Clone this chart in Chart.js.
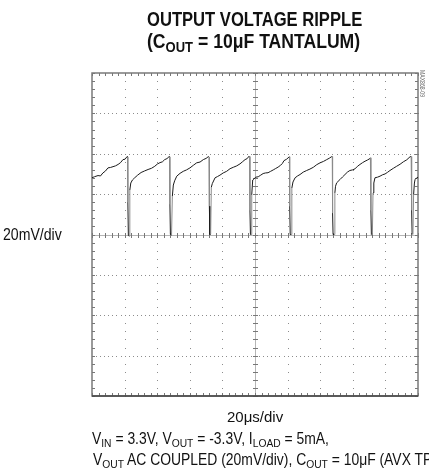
<!DOCTYPE html>
<html>
<head>
<meta charset="utf-8">
<script src="https://cdn.jsdelivr.net/npm/chart.js@4/dist/chart.umd.min.js"></script>
<style>
  html, body { margin: 0; padding: 0; background: #fff; width: 429px; height: 474px; overflow: hidden; }
  #wrap { position: relative; width: 429px; height: 474px; overflow: hidden; }
  canvas { position: absolute; left: 0; top: 0; }
  .t { position: absolute; white-space: nowrap; line-height: 1; font-family: "Liberation Sans", Arial, sans-serif; color: #111; transform-origin: 0 0; }
  .b { font-weight: bold; }
  .s { font-size: 74%; position: relative; top: 0.24em; }
</style>
</head>
<body>
<div id="wrap">
  <canvas id="scope" width="429" height="474"></canvas>
  <div class="t b" id="title1" style="top:9px;font-size:20px" data-w="215" data-cx="254">OUTPUT VOLTAGE RIPPLE</div>
  <div class="t b" id="title2" style="top:31px;font-size:20px" data-w="213" data-cx="253">(C<span class="s">OUT</span> = 10μF TANTALUM)</div>
  <div class="t" id="ylab" style="top:227px;font-size:16px" data-w="59" data-x="3">20mV/div</div>
  <div class="t" id="xlab" style="top:409px;font-size:15px" data-w="56" data-cx="255">20μs/div</div>
  <div class="t" id="note1" style="top:431px;font-size:16px;left:92px">V<span class="s">IN</span> = 3.3V, V<span class="s">OUT</span> = -3.3V, I<span class="s">LOAD</span> = 5mA,</div>
  <div class="t" id="note2" style="top:452px;font-size:16px;left:93px"><span id="vis">V<span class="s">OUT</span> AC COUPLED (20mV/div), C<span class="s">OUT</span> = 10μF (AVX T</span>PS)</div>
  <div class="t" id="tag" style="top:70px;left:426px;font-size:7px;color:#666" data-w="27">MAX868-09</div>
</div>
<script>
// scope trace: time in µs (20 µs/div), ripple in mV (20 mV/div)
const timeMin = 0, timeMax = 200, timeDiv = 20;
const mvMin = -80, mvMax = 80, mvDiv = 20;

const traceTime = [
  0, 1.5, 3.7, 5.2, 6.7, 8.2, 9.8, 11.3, 12.9, 14.4, 16.0, 17.5, 19.0, 20.3, 21.5,
  21.8, 22.0, 22.3, 22.8, 23.2, 23.8, 24.8, 26.2, 28.0, 30.1, 32.3, 34.4, 36.5, 38.5, 40.1, 41.7, 43.2, 44.6, 46.0, 47.3,
  47.6, 47.8, 48.1, 48.8, 49.3, 49.9, 50.7, 52.0, 54.0, 56.0, 58.0, 60.1, 62.2, 64.2, 66.3, 68.3, 70.0, 71.4,
  71.8, 72.0, 72.3, 72.8, 73.2, 73.8, 75.5, 77.0, 78.5, 80.5, 82.6, 84.7, 86.7, 88.8, 90.8, 92.3, 93.9, 95.2, 96.3,
  96.7, 96.9, 97.2, 97.6, 98.0, 98.6, 100.5, 102.0, 103.5, 105.0, 106.5, 108.0, 109.6, 111.2, 112.7, 114.2, 115.7, 116.8, 117.8, 119.4, 120.9,
  121.1, 121.3, 121.6, 122.2, 122.6, 123.3, 124.6, 126.1, 127.6, 129.6, 131.7, 133.7, 135.8, 137.9, 139.9, 142.0, 144.0, 145.6, 147.1,
  147.4, 147.6, 147.9, 148.5, 149.0, 149.4, 150.1, 152.1, 153.7, 155.2, 156.7, 158.2, 159.8, 161.3, 162.9, 164.4, 166.0, 167.5, 169.0, 170.5, 170.8,
  171.1, 171.4, 172.0, 172.4, 172.9, 173.6, 175.2, 176.7, 178.3, 179.8, 181.3, 182.8, 184.9, 186.9, 189.0, 191.0, 193.1, 195.1, 195.8,
  196.1, 196.4, 196.9, 197.3, 197.8, 198.2, 199.0, 200
];
const traceMv = [
  28.1, 28.6, 29.2, 29.0, 30.5, 31.4, 33.0, 33.2, 33.6, 34.0, 34.7, 35.6, 37.1, 37.3, 38.6,
  38.4, 16, -0.5, -0.8, 22.0, 25.5, 27.0, 28.1, 29.4, 30.7, 31.5, 32.2, 32.8, 33.8, 34.9, 35.6, 36.0, 37.1, 37.6, 38.6,
  38.4, 15, 0, -0.3, 19, 24.5, 26.6, 28.9, 30.3, 31.3, 32.0, 33.0, 34.3, 35.5, 35.9, 37.1, 37.7, 38.6,
  38.4, 14, 0, 0.2, 23.4, 25.2, 28.1, 28.7, 29.4, 30.5, 31.3, 32.6, 33.3, 34.0, 35.0, 36.0, 37.1, 37.6, 38.8,
  38.6, 12, 0, 0, 19.8, 27.0, 28.4, 28.6, 29.4, 30.2, 30.5, 30.6, 31.3, 32.0, 32.7, 33.4, 34.3, 35.2, 36.6, 37.3, 38.4,
  38.5, 14, 0, 0, 23.0, 26.0, 28.1, 29.0, 29.7, 30.9, 31.7, 32.4, 33.3, 34.6, 35.5, 36.2, 37.1, 37.8, 38.6,
  38.6, 10.6, 0, 0, 20.6, 23.9, 25.6, 27.2, 28.5, 29.7, 30.9, 31.7, 32.0, 32.5, 33.8, 34.7, 35.6, 36.3, 36.9, 37.6, 38.0,
  12, 0, -0.5, 20.6, 25.5, 28.1, 28.4, 28.9, 29.6, 30.0, 30.8, 31.7, 32.8, 33.8, 34.8, 36.0, 37.0, 38.5, 38.6,
  12, 0, 0, 19.8, 25.5, 27.2, 27.9, 28.4
];

// squeeze the Helvetica-Narrow style labels to the widths they have on the plot
document.querySelectorAll('.t[data-w]').forEach(el => {
  const k = +el.dataset.w / el.offsetWidth;
  if (el.id === 'tag') {
    el.style.transform = 'rotate(90deg) scaleX(' + k + ')';
    return;
  }
  el.style.transform = 'scaleX(' + k + ')';
  if (el.dataset.cx) el.style.left = (+el.dataset.cx - +el.dataset.w / 2) + 'px';
  else el.style.left = el.dataset.x + 'px';
});
// the second note line runs off the right edge at "(AVX T"
const noteScale = 330 / document.getElementById('vis').offsetWidth;
['note1', 'note2'].forEach(id => {
  document.getElementById(id).style.transform = 'scaleX(' + noteScale + ')';
});

const scopeGrid = {
  id: 'scopeGrid',
  beforeDatasetsDraw(chart) {
    const { ctx, chartArea: a } = chart;
    const xs = chart.scales.x, ys = chart.scales.y;
    const px = v => Math.round(xs.getPixelForValue(v));
    const py = v => Math.round(ys.getPixelForValue(v));
    ctx.save();

    // dotted graticule
    ctx.fillStyle = '#8c8c8c';
    for (let t = timeMin + timeDiv; t < timeMax; t += timeDiv) {
      if (t === 100) continue;
      for (let m = mvMin; m <= mvMax; m += mvDiv / 5) ctx.fillRect(px(t), py(m), 1, 1);
    }
    for (let m = mvMin + mvDiv; m < mvMax; m += mvDiv) {
      if (m === 0) continue;
      for (let t = timeMin; t <= timeMax; t += timeDiv / 8) ctx.fillRect(px(t), py(m), 1, 1);
    }

    // centre axes with minor ticks
    ctx.strokeStyle = '#b5b5b5';
    ctx.lineWidth = 1;
    ctx.beginPath();
    ctx.moveTo(a.left, py(0) + 0.5); ctx.lineTo(a.right, py(0) + 0.5);
    ctx.moveTo(px(100) + 0.5, a.top); ctx.lineTo(px(100) + 0.5, a.bottom);
    ctx.stroke();
    ctx.strokeStyle = '#777';
    ctx.beginPath();
    for (let t = timeMin; t <= timeMax; t += timeDiv / 5) {
      ctx.moveTo(px(t) + 0.5, py(0) - 2); ctx.lineTo(px(t) + 0.5, py(0) + 3);
      ctx.moveTo(px(t) + 0.5, a.top); ctx.lineTo(px(t) + 0.5, a.top + 3);
      ctx.moveTo(px(t) + 0.5, a.bottom); ctx.lineTo(px(t) + 0.5, a.bottom - 3);
    }
    for (let m = mvMin; m <= mvMax; m += mvDiv / 5) {
      ctx.moveTo(px(100) - 2, py(m) + 0.5); ctx.lineTo(px(100) + 3, py(m) + 0.5);
      ctx.moveTo(a.left, py(m) + 0.5); ctx.lineTo(a.left + 3, py(m) + 0.5);
      ctx.moveTo(a.right, py(m) + 0.5); ctx.lineTo(a.right - 3, py(m) + 0.5);
    }
    ctx.stroke();

    // frame
    ctx.strokeStyle = '#7a7a7a';
    ctx.lineWidth = 1.5;
    ctx.strokeRect(a.left, a.top, a.right - a.left, a.bottom - a.top);
    ctx.strokeStyle = '#444';
    ctx.beginPath();
    ctx.moveTo(a.left, a.bottom); ctx.lineTo(a.right, a.bottom);
    ctx.stroke();
    ctx.restore();
  }
};

const points = traceTime.map((t, i) => ({ x: t, y: traceMv[i] }));

new Chart(document.getElementById('scope'), {
  type: 'line',
  data: {
    datasets: [{
      data: points,
      borderColor: '#1b1b1b',
      borderWidth: 1,
      pointRadius: 0,
      tension: 0,
      segment: {
        // fast edges show up faint on the scope screen
        borderColor: c => {
          const p = c.p0.parsed, q = c.p1.parsed;
          const slope = Math.abs((q.y - p.y) / (q.x - p.x));
          return slope > 15 && q.y > 5 ? '#8a8a8a' : '#1b1b1b';
        }
      }
    }]
  },
  options: {
    responsive: false,
    animation: false,
    devicePixelRatio: 1,
    layout: { padding: { left: 92, top: 73, right: 11, bottom: 78 } },
    plugins: { legend: { display: false }, tooltip: { enabled: false } },
    scales: {
      x: { type: 'linear', min: timeMin, max: timeMax, display: false },
      y: { min: mvMin, max: mvMax, display: false }
    }
  },
  plugins: [scopeGrid]
});
</script>
</body>
</html>
